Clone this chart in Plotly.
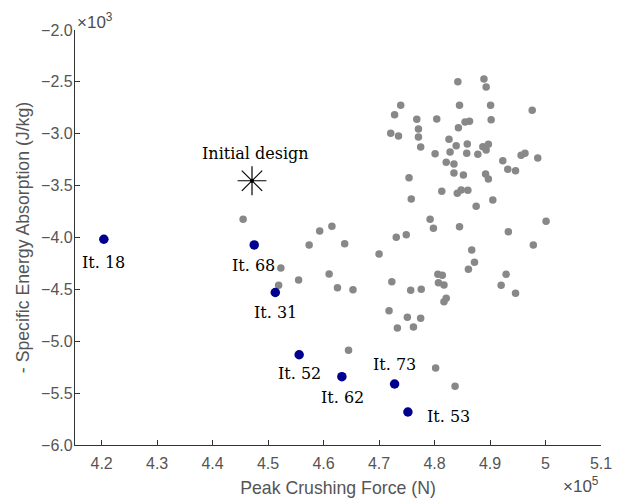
import plotly.graph_objects as go

# Peak crushing force (x 1e5 N) and -SEA (x 1e3 J/kg) of all sampled designs
gray_x = [4.842, 4.889, 4.893, 4.739, 4.845, 4.901, 4.976, 4.728, 4.768, 4.804,
          4.902, 4.855, 4.863, 4.843, 4.771, 4.721, 4.735, 4.771, 4.826, 4.775,
          4.839, 4.859, 4.887, 4.897, 4.893, 4.801, 4.828, 4.858, 4.878, 4.923,
          4.956, 4.963, 4.986, 4.821, 4.835, 4.932, 4.946, 4.754, 4.835, 4.852,
          4.892, 4.897, 4.813, 4.841, 4.848, 4.860, 4.758, 4.875, 4.905, 4.792,
          4.798, 4.845, 5.001, 4.593, 4.615, 4.731, 4.749, 4.933, 4.574, 4.638,
          4.978, 4.867, 4.700, 4.455, 4.610, 4.625, 4.653, 4.723, 4.757, 4.776,
          4.806, 4.814, 4.807, 4.817, 4.861, 4.872, 4.929, 4.920, 4.946, 4.821,
          4.817, 4.718, 4.751, 4.775, 4.733, 4.762, 4.645, 4.802, 4.837, 4.523,
          4.519, 4.555]
gray_y = [-2.498, -2.472, -2.549, -2.726, -2.726, -2.726, -2.774, -2.816, -2.861, -2.858,
          -2.865, -2.887, -2.880, -2.942, -2.954, -2.996, -3.022, -3.031, -3.054, -3.128,
          -3.115, -3.099, -3.125, -3.102, -3.157, -3.192, -3.176, -3.188, -3.198, -3.260,
          -3.208, -3.188, -3.234, -3.275, -3.292, -3.343, -3.356, -3.424, -3.378, -3.398,
          -3.388, -3.436, -3.555, -3.574, -3.542, -3.545, -3.629, -3.699, -3.639, -3.825,
          -3.911, -3.896, -3.844, -3.937, -3.892, -3.998, -3.973, -3.944, -4.072, -4.060,
          -4.072, -4.121, -4.159, -3.825, -4.352, -4.484, -4.503, -4.426, -4.509, -4.499,
          -4.355, -4.364, -4.436, -4.458, -4.307, -4.239, -4.355, -4.461, -4.538, -4.586,
          -4.619, -4.706, -4.769, -4.779, -4.872, -4.863, -5.087, -5.258, -5.434, -4.294,
          -4.461, -4.410]

# Pareto iterations
it_labels = ["It. 18", "It. 68", "It. 31", "It. 52", "It. 62", "It. 73", "It. 53"]
it_x = [4.204, 4.475, 4.513, 4.556, 4.633, 4.728, 4.752]
it_y = [-4.017, -4.072, -4.530, -5.130, -5.342, -5.412, -5.682]
# label offsets in pixels (dx, dy)
it_offsets = [(0, -23), (-1, -21), (0, -20.5), (0, -18.5), (1, -21), (0, 20), (41, -4)]

init_x = [4.471]
init_y = [-3.453]
init_label = "Initial design"

x_ticks = [4.2, 4.3, 4.4, 4.5, 4.6, 4.7, 4.8, 4.9, 5.0, 5.1]
x_ticktext = ["4.2", "4.3", "4.4", "4.5", "4.6", "4.7", "4.8", "4.9", "5", "5.1"]
y_ticks = [-2.0, -2.5, -3.0, -3.5, -4.0, -4.5, -5.0, -5.5, -6.0]

fig = go.Figure()
fig.add_trace(go.Scatter(x=gray_x, y=gray_y, mode="markers",
                         marker=dict(color="#888888", size=7.5, line=dict(width=0)),
                         hoverinfo="skip", showlegend=False))
fig.add_trace(go.Scatter(x=it_x, y=it_y, mode="markers",
                         marker=dict(color="#00008f", size=9.5, line=dict(width=0)),
                         showlegend=False))
fig.add_trace(go.Scatter(x=init_x, y=init_y, mode="markers",
                         marker=dict(symbol="asterisk-open", color="black", size=24,
                                     line=dict(width=1.2, color="black")),
                         showlegend=False))
fig.add_trace(go.Scatter(x=init_x, y=init_y, mode="markers",
                         marker=dict(color="black", size=4), showlegend=False))

label_font = dict(family="DejaVu Serif", size=16, color="black")
for lab, x, y, (dx, dy) in zip(it_labels, it_x, it_y, it_offsets):
    fig.add_annotation(x=x, y=y, text=lab, showarrow=False, xshift=dx, yshift=dy,
                       xanchor="center", yanchor="middle", font=label_font)
fig.add_annotation(x=init_x[0], y=init_y[0], text=init_label, showarrow=False,
                   xshift=3, yshift=27, xanchor="center", yanchor="middle", font=label_font)

fig.add_annotation(xref="paper", yref="paper", x=0.0, y=1.0, text="×10<sup>3</sup>",
                   showarrow=False, xanchor="left", yanchor="bottom", yshift=-4,
                   font=dict(family="Liberation Sans", size=17, color="#4d4d4d"))
fig.add_annotation(xref="paper", yref="paper", x=1.0, y=0.0, text="×10<sup>5</sup>",
                   showarrow=False, xanchor="right", yanchor="top", yshift=-27,
                   font=dict(family="Liberation Sans", size=17, color="#4d4d4d"))

axis_common = dict(showgrid=False, zeroline=False, showline=True, linecolor="#333333",
                   linewidth=1.2, ticks="inside", ticklen=5, tickcolor="#333333",
                   mirror=False, automargin=False,
                   tickfont=dict(family="Liberation Sans", size=16, color="#555555"),
                   title_font=dict(family="Liberation Sans", size=17.7, color="#555555"))

fig.update_xaxes(range=[4.152, 5.1], tickvals=x_ticks, ticktext=x_ticktext,
                 ticklabelstandoff=4,
                 title_text="Peak Crushing Force (N)", title_standoff=10, **axis_common)
fig.update_yaxes(range=[-6.0, -2.0], tickvals=y_ticks, tickformat=".1f",
                 ticklabelstandoff=-2,
                 title_text="- Specific Energy Absorption (J/kg)", title_standoff=6,
                 **axis_common)

# page body has an 8px margin, so the figure starts 8px in from the window's corner
fig.update_layout(width=610, height=494, margin=dict(l=67, r=17, t=22, b=57),
                  plot_bgcolor="white", paper_bgcolor="white")

fig.write_html("out.html")
